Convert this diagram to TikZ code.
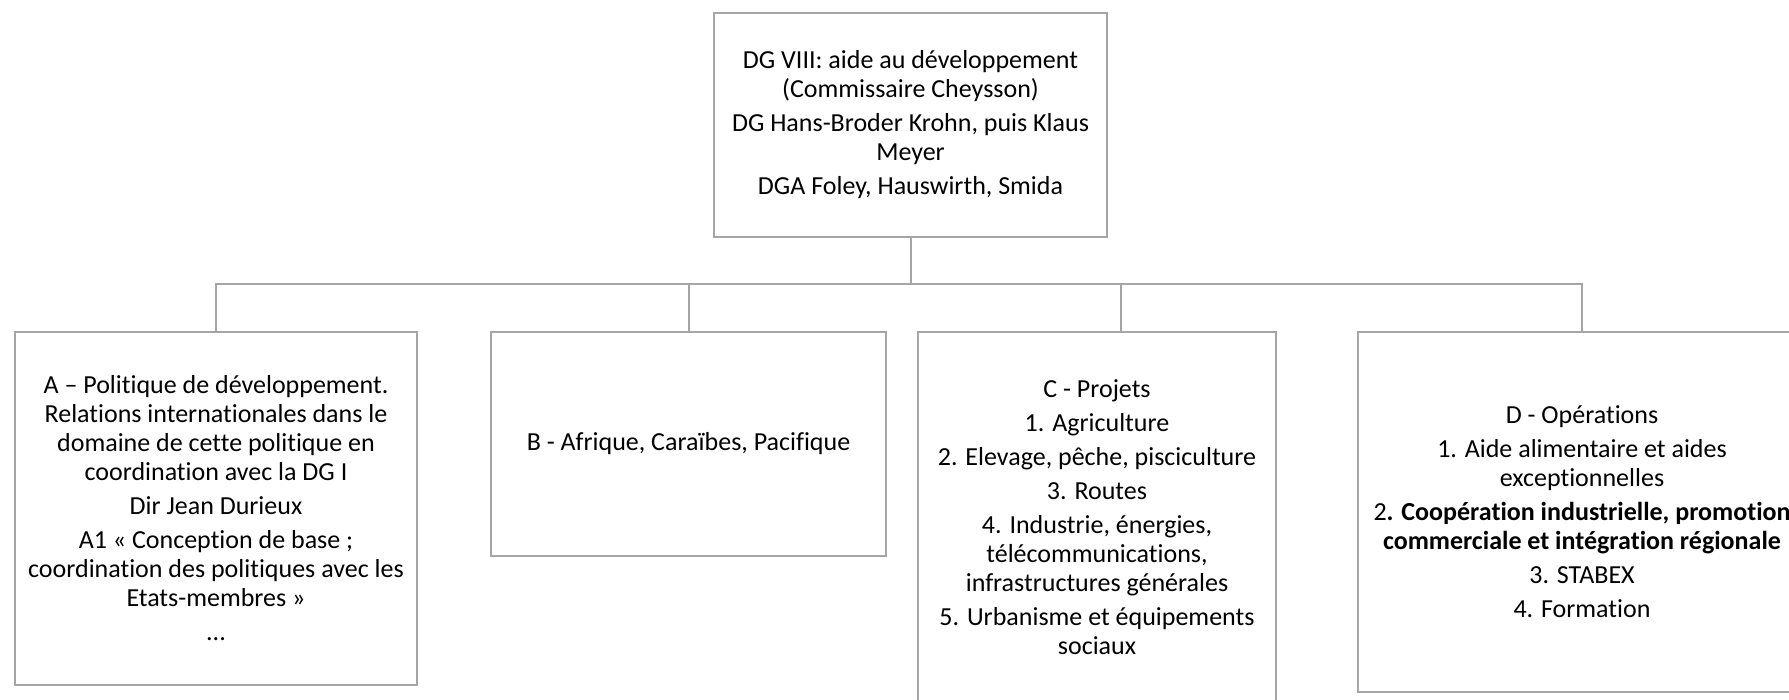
\documentclass[tikz,border=0pt]{standalone}
\usepackage{fontspec}
\setmainfont{Carlito}[Ligatures=NoCommon]
\usepackage{tikz}
\usetikzlibrary{positioning}
\definecolor{boxgray}{RGB}{165,165,165}
\tikzset{every picture/.style={line width=1pt}}

\begin{document}
\begin{tikzpicture}[x=0.5pt, y=-0.5pt,
    unit/.style={draw=boxgray, rectangle, fill=white, align=center, inner sep=0pt,
        font=\fontsize{13}{14.5}\selectfont},
    link/.style={draw=boxgray}]
\useasboundingbox (0,0) rectangle (1789,700);
\clip (0,0) rectangle (1789,700);
    % Directorate-General
\node[unit, minimum width=196.5pt, minimum height=112pt] (dg) at (910.5,125) {DG VIII: aide au développement\\(Commissaire Cheysson)\\[2.5pt]DG Hans-Broder Krohn, puis Klaus\\Meyer\\[2.5pt]DGA Foley, Hauswirth, Smida};

    % The four directorates
\node[unit, minimum width=201pt, minimum height=176.5pt] (dirA) at (216,508.5) {A – Politique de développement.\\Relations internationales dans le\\domaine de cette politique en\\coordination avec la DG I\\[2.5pt]Dir Jean Durieux\\[2.5pt]A1 « Conception de base ;\\coordination des politiques avec les\\Etats-membres »\\[2.5pt]...};
\node[unit, minimum width=197.5pt, minimum height=112pt] (dirB) at (688.5,444) {B - Afrique, Caraïbes, Pacifique};
\node[unit, minimum width=179pt, minimum height=185pt] (dirC) at (1097,517) {C - Projets\\[2.5pt]1. Agriculture\\[2.5pt]2. Elevage, pêche, pisciculture\\[2.5pt]3. Routes\\[2.5pt]4. Industrie, énergies,\\télécommunications,\\infrastructures générales\\[2.5pt]5. Urbanisme et équipements\\sociaux};
\node[unit, minimum width=224pt, minimum height=180pt] (dirD) at (1582,512) {D - Opérations\\[2.5pt]1. Aide alimentaire et aides\\exceptionnelles\\[2.5pt]2\textbf{. Coopération industrielle, promotion}\\\textbf{commerciale et intégration régionale}\\[2.5pt]3. STABEX\\[2.5pt]4. Formation};

    % Connections
\coordinate (bus) at (910.5,284);
    \draw[link] (dg.south) -- (bus);
    \draw[link] (bus) -| (dirA.north);
    \draw[link] (bus) -| (dirB.north);
    \draw[link] (bus) -| ([xshift=12pt]dirC.north);
    \draw[link] (bus) -| (dirD.north);
\end{tikzpicture}
\end{document}
